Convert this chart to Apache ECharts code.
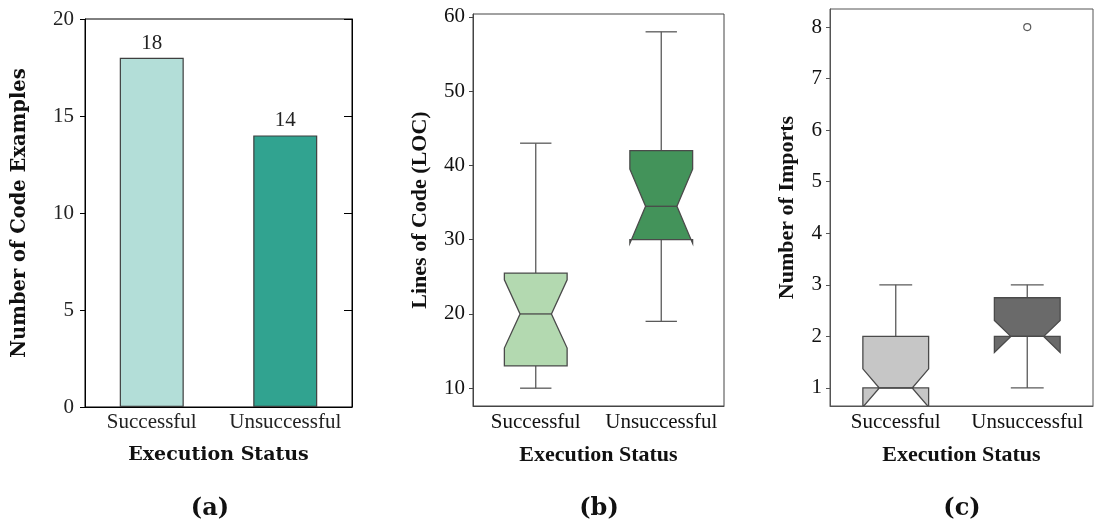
<!DOCTYPE html>
<html>
<head>
<meta charset="utf-8">
<script src="https://cdn.jsdelivr.net/npm/echarts@6/dist/echarts.min.js"></script>
<style>
html,body{margin:0;padding:0;background:#fff;}
#main{width:1094px;height:527px;}
</style>
</head>
<body>
<div id="main"></div>
<script>
var categories = ['Successful', 'Unsuccessful'];

// (a) number of code examples
var exampleCounts = [18, 14];
var countTicks = [0, 5, 10, 15, 20];

// (b) lines of code, notched boxes
var locWhiskerLow = [10, 19];
var locQ1 = [13, 30];
var locNotchLow = [15.4, 29.5];
var locMedian = [20, 34.5];
var locNotchHigh = [24.6, 39.5];
var locQ3 = [25.5, 42];
var locWhiskerHigh = [43, 58];
var locTicks = [10, 20, 30, 40, 50, 60];

// (c) number of imports, notched boxes
var impWhiskerLow = [1, 1];
var impQ1 = [1, 2];
var impNotchLow = [0.63, 1.69];
var impMedian = [1, 2];
var impNotchHigh = [1.37, 2.31];
var impQ3 = [2, 2.75];
var impWhiskerHigh = [3, 3];
var impOutliers = [[1, 8]];
var impTicks = [1, 2, 3, 4, 5, 6, 7, 8];

var serif = 'Liberation Serif';
var cmSerif = 'DejaVu Serif';

function boxRows(wl, q1, nl, md, nh, q3, wh) {
    var rows = [];
    for (var i = 0; i < categories.length; i++) {
        rows.push([i, wl[i], q1[i], nl[i], md[i], nh[i], q3[i], wh[i]]);
    }
    return rows;
}

// notched box like seaborn/matplotlib
function notchBox(fills) {
    return function (params, api) {
        var i = api.value(0);
        var band = api.size([1, 0])[0];
        var hw = band * 0.25, nw = band * 0.125;
        var cx = api.coord([i, api.value(4)])[0];
        function y(v) { return api.coord([i, v])[1]; }
        var wl = y(api.value(1)), q1 = y(api.value(2)), nl = y(api.value(3)),
            md = y(api.value(4)), nh = y(api.value(5)), q3 = y(api.value(6)), wh = y(api.value(7));
        var L = cx - hw, R = cx + hw, cl = cx - nw, cr = cx + nw;
        var pts = [[L, q1], [R, q1], [R, nl], [cr, md], [R, nh], [R, q3], [L, q3], [L, nh], [cl, md], [L, nl]];
        var line = {stroke: '#5a5a5a', lineWidth: 1.3};
        return {
            type: 'group',
            children: [
                {type: 'line', shape: {x1: cx, y1: q1, x2: cx, y2: wl}, style: line},
                {type: 'line', shape: {x1: cx, y1: q3, x2: cx, y2: wh}, style: line},
                {type: 'line', shape: {x1: cl, y1: wl, x2: cr, y2: wl}, style: line},
                {type: 'line', shape: {x1: cl, y1: wh, x2: cr, y2: wh}, style: line},
                {type: 'polygon', shape: {points: pts}, style: {fill: fills[i], stroke: '#4a4a4a', lineWidth: 1.3}},
                {type: 'line', shape: {x1: cl, y1: md, x2: cr, y2: md}, style: {stroke: '#4a4a4a', lineWidth: 1.3}}
            ]
        };
    };
}

var tickLabel = {fontFamily: serif, fontSize: 21, color: '#111'};
var boxName = {fontFamily: serif, fontSize: 22, fontWeight: 'bold', color: '#111'};

var myChart = echarts.init(document.getElementById('main'));
var option = {
    animation: false,
    grid: [
        {left: 85, top: 19, width: 267, height: 388, show: true, borderColor: '#000', borderWidth: 1},
        {left: 473, top: 14, width: 251, height: 392, show: true, borderColor: '#444', borderWidth: 1},
        {left: 830, top: 9, width: 263, height: 397, show: true, borderColor: '#555', borderWidth: 1}
    ],
    xAxis: [
        {
            type: 'category', gridIndex: 0, data: categories,
            axisLine: {lineStyle: {color: '#000'}},
            axisTick: {show: false},
            axisLabel: {fontFamily: serif, fontSize: 21, color: '#222', margin: 5, interval: 0},
            name: 'Execution Status', nameLocation: 'middle', nameGap: 39,
            nameTextStyle: {fontFamily: cmSerif, fontSize: 19, fontWeight: 'bold', color: '#111'}
        },
        {
            type: 'category', gridIndex: 1, data: categories,
            axisLine: {lineStyle: {color: '#444'}},
            axisTick: {alignWithLabel: true, length: 4, lineStyle: {color: '#444'}},
            axisLabel: Object.assign({margin: 6, interval: 0}, tickLabel),
            name: 'Execution Status', nameLocation: 'middle', nameGap: 38,
            nameTextStyle: boxName
        },
        {
            type: 'category', gridIndex: 2, data: categories,
            axisLine: {lineStyle: {color: '#555'}},
            axisTick: {alignWithLabel: true, length: 4, lineStyle: {color: '#555'}},
            axisLabel: Object.assign({margin: 6, interval: 0}, tickLabel),
            name: 'Execution Status', nameLocation: 'middle', nameGap: 38,
            nameTextStyle: boxName
        }
    ],
    yAxis: [
        {
            type: 'value', gridIndex: 0, min: 0, max: 20, interval: 5,
            axisLine: {show: true, lineStyle: {color: '#000'}},
            axisTick: {show: true, length: 5, lineStyle: {color: '#000'}},
            splitLine: {show: false},
            axisLabel: {fontFamily: serif, fontSize: 21, color: '#222', margin: 11},
            name: 'Number of Code Examples', nameLocation: 'middle', nameGap: 55,
            nameTextStyle: {fontFamily: cmSerif, fontSize: 19.5, fontWeight: 'bold', color: '#111'}
        },
        {
            type: 'value', gridIndex: 0, min: 0, max: 20, interval: 5, position: 'right',
            axisLine: {show: true, lineStyle: {color: '#000'}},
            axisTick: {show: true, inside: true, length: 8, lineStyle: {color: '#000'}},
            splitLine: {show: false},
            axisLabel: {show: false}
        },
        {
            type: 'value', gridIndex: 1, min: 7.6, max: 60.4,
            axisLine: {show: true, lineStyle: {color: '#444'}},
            axisTick: {show: true, length: 4, customValues: locTicks, lineStyle: {color: '#444'}},
            splitLine: {show: false},
            axisLabel: Object.assign({margin: 8, customValues: locTicks}, tickLabel),
            name: 'Lines of Code (LOC)', nameLocation: 'middle', nameGap: 42,
            nameTextStyle: boxName
        },
        {
            type: 'value', gridIndex: 2, min: 0.65, max: 8.35,
            axisLine: {show: true, lineStyle: {color: '#555'}},
            axisTick: {show: true, length: 4, customValues: impTicks, lineStyle: {color: '#555'}},
            splitLine: {show: false},
            axisLabel: Object.assign({margin: 8, customValues: impTicks}, tickLabel),
            name: 'Number of Imports', nameLocation: 'middle', nameGap: 32,
            nameTextStyle: boxName
        }
    ],
    series: [
        {
            type: 'bar', xAxisIndex: 0, yAxisIndex: 0, barWidth: 64,
            data: exampleCounts.map(function (v, i) {
                return {value: v, itemStyle: {color: ['#b3ded8', '#31a390'][i]}};
            }),
            itemStyle: {borderColor: '#3f3f3f', borderWidth: 1.2},
            label: {show: true, position: 'top', distance: 4, fontFamily: serif, fontSize: 21, color: '#222'}
        },
        {
            type: 'custom', xAxisIndex: 1, yAxisIndex: 2, clip: true,
            renderItem: notchBox(['#b3d9b0', '#43935a']),
            encode: {x: 0, y: [1, 2, 3, 4, 5, 6, 7]},
            data: boxRows(locWhiskerLow, locQ1, locNotchLow, locMedian, locNotchHigh, locQ3, locWhiskerHigh)
        },
        {
            type: 'custom', xAxisIndex: 2, yAxisIndex: 3, clip: true,
            renderItem: notchBox(['#c6c6c6', '#6a6a6a']),
            encode: {x: 0, y: [1, 2, 3, 4, 5, 6, 7]},
            data: boxRows(impWhiskerLow, impQ1, impNotchLow, impMedian, impNotchHigh, impQ3, impWhiskerHigh)
        },
        {
            type: 'scatter', xAxisIndex: 2, yAxisIndex: 3,
            symbol: 'circle', symbolSize: 7,
            itemStyle: {color: '#fff', borderColor: '#333', borderWidth: 1.2},
            data: impOutliers
        }
    ],
    graphic: [
        {type: 'text', x: 210, y: 509, style: {text: '(a)', fontFamily: cmSerif, fontSize: 24, fontWeight: 'bold', fill: '#111', align: 'center', verticalAlign: 'middle'}},
        {type: 'text', x: 599, y: 509, style: {text: '(b)', fontFamily: cmSerif, fontSize: 24, fontWeight: 'bold', fill: '#111', align: 'center', verticalAlign: 'middle'}},
        {type: 'text', x: 962, y: 509, style: {text: '(c)', fontFamily: cmSerif, fontSize: 24, fontWeight: 'bold', fill: '#111', align: 'center', verticalAlign: 'middle'}}
    ]
};
myChart.setOption(option);
</script>
</body>
</html>
